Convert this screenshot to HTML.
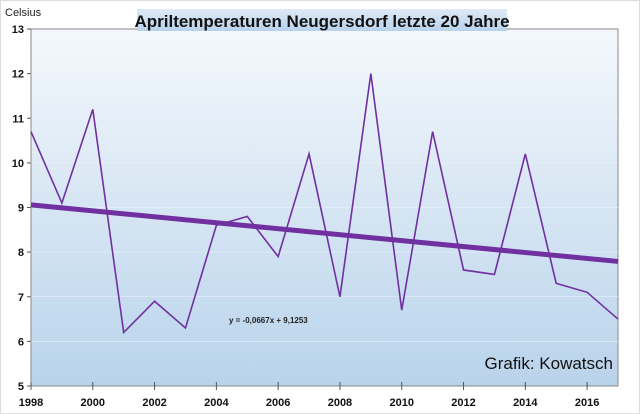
<!DOCTYPE html>
<html><head><meta charset="utf-8"><style>
body{margin:0;background:#fff;}
#wrap{position:relative;width:640px;height:414px;background:#fff;border:1px solid #ddd;box-sizing:border-box;font-family:"Liberation Sans",sans-serif;overflow:hidden}
</style></head><body>
<div id="wrap">
<svg id="svg" width="640" height="414">
<defs>
<linearGradient id="bg" x1="0" y1="0" x2="0" y2="1"><stop offset="0" stop-color="#f4f8fc"/><stop offset="1" stop-color="#b9d3eb"/></linearGradient>
<linearGradient id="tb" x1="0" y1="0" x2="0" y2="1"><stop offset="0" stop-color="#dfeaf6"/><stop offset="1" stop-color="#b8d2ec"/></linearGradient>
</defs>
<g id="plot"></g>
<rect x="136" y="8" width="370" height="22" fill="url(#tb)"/>
<text x="321" y="26" text-anchor="middle" font-size="17" font-weight="bold" fill="#111">Apriltemperaturen Neugersdorf letzte 20 Jahre</text>
<text x="4" y="15" font-size="11" fill="#222">Celsius</text>
</svg>
</div>
<script>
const years=[1998,1999,2000,2001,2002,2003,2004,2005,2006,2007,2008,2009,2010,2011,2012,2013,2014,2015,2016,2017];
const temps=[10.7,9.1,11.2,6.2,6.9,6.3,8.6,8.8,7.9,10.2,7.0,12.0,6.7,10.7,7.6,7.5,10.2,7.3,7.1,6.5];
const yTicks=[5,6,7,8,9,10,11,12,13];
const xTicks=[1998,2000,2002,2004,2006,2008,2010,2012,2014,2016];
const trendSlope=-0.0667, trendIntercept=9.1253;
const L=30,R=617,T=28,B=385;
const X=v=>L+(v-1998)/(2017-1998)*(R-L);
const Y=v=>B-(v-5)/(13-5)*(B-T);
const NS="http://www.w3.org/2000/svg";
const g=document.getElementById('plot');
function mk(t,a){const e=document.createElementNS(NS,t);for(const k in a)e.setAttribute(k,a[k]);g.appendChild(e);return e;}
let e=mk('rect',{x:L,y:T,width:R-L,height:B-T,fill:'url(#bg)',stroke:'#888','stroke-width':1});


yTicks.forEach(v=>{
 if(v>5&&v<13){const gl=mk('line',{x1:L,x2:R,y1:Y(v),y2:Y(v),stroke:'#eef3f9','stroke-width':0.6});
 
 }
 const tk=mk('line',{x1:L-4,x2:L,y1:Y(v),y2:Y(v),stroke:'#555'});
 
 
 const t=mk('text',{x:L-7,y:Y(v)+4,'text-anchor':'end','font-size':11,'font-weight':'bold',fill:'#111'});
 t.textContent=v;
 
 
});
xTicks.forEach(v=>{
 const tk=mk('line',{x1:X(v),x2:X(v),y1:B-4,y2:B+4,stroke:'#555'});
 
 
 const t=mk('text',{x:X(v),y:B+20,'text-anchor':'middle','font-size':11,'font-weight':'bold',fill:'#111'});
 t.textContent=v;
 
 
});
const tr=mk('line',{x1:X(1998),y1:Y(trendIntercept+trendSlope*1),x2:X(2017),y2:Y(trendIntercept+trendSlope*20),stroke:'#7030a0','stroke-width':5});


const ln=mk('polyline',{points:years.map((y,i)=>X(y)+','+Y(temps[i])).join(' '),fill:'none',stroke:'#7030a0','stroke-width':1.6});


const eq=mk('text',{x:228,y:322,'font-size':8,'font-weight':'bold',fill:'#222'});
eq.textContent='y = -0,0667x + 9,1253';


const cr=mk('text',{x:612,y:368,'text-anchor':'end','font-size':17,fill:'#111'});
cr.textContent='Grafik: Kowatsch';


</script>
</body></html>
